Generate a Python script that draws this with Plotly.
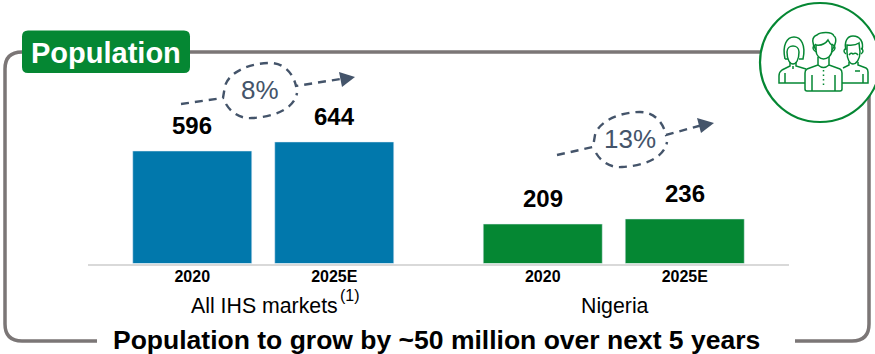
import plotly.graph_objects as go

# Chart data (population, millions)
years = ["2020", "2025E"]
ihs_values = [596, 644]
nigeria_values = [209, 236]
group_names = ["All IHS markets", "Nigeria"]
footnote_mark = "(1)"
growth_labels = ["8%", "13%"]
badge_text = "Population"
headline = "Population to grow by ~50 million over next 5 years"

W, H = 875, 354
BLUE = "#0178AC"
GREEN = "#058733"
SLATE = "#44546A"
FRAME = "#7B7676"
AXIS = "#D9D9D9"
FONT = "Liberation Sans, Arial, sans-serif"

BASE_Y = 263.5          # baseline, px from the top
PX_PER_UNIT = 0.1887    # bar height per million
SPLIT_X = 438.5         # border between the two panels
EDGE_L, EDGE_R = 88, 789
CAT_PITCH = 142         # px per category
half_span = (SPLIT_X - EDGE_L) / CAT_PITCH / 2
x_range = [0.5 - half_span, 0.5 + half_span]
y_range = [0, BASE_Y / PX_PER_UNIT]
y_domain = [1 - BASE_Y / H, 1]

fig = go.Figure()
fig.add_bar(x=years, y=ihs_values, marker_color=BLUE, xaxis="x", yaxis="y", hoverinfo="x+y")
fig.add_bar(x=years, y=nigeria_values, marker_color=GREEN, xaxis="x2", yaxis="y2", hoverinfo="x+y")
# Empty trace that keeps the full-page pixel axes alive for the decorations
fig.add_scatter(x=[], y=[], xaxis="x3", yaxis="y3", hoverinfo="skip")

cat_axis = dict(
    type="category", range=x_range, showgrid=False, zeroline=False, showline=True,
    linecolor=AXIS, linewidth=2, ticks="", ticklen=0, fixedrange=True,
    categoryorder="array", categoryarray=years, ticklabelstandoff=-3,
    tickfont=dict(family=FONT, size=16, color="#000000", weight="bold"),
)
val_axis = dict(range=y_range, domain=y_domain, visible=False, fixedrange=True)

annotations = []


def label(x, y, text, size, color="#000000", bold=False, xref="x3", yref="y3", **kw):
    annotations.append(dict(
        x=x, y=y, xref=xref, yref=yref, text=f"<b>{text}</b>" if bold else text,
        showarrow=False, font=dict(family=FONT, size=size, color=color), **kw))


# Value labels sit a fixed distance above their bars; x is the category position
for xref, yref, values in (("x", "y", ihs_values), ("x2", "y2", nigeria_values)):
    for position, value in enumerate(values):
        label(position, value, str(value), 24, bold=True, xref=xref, yref=yref,
              yanchor="middle", yshift=25.5)

label(264.5, 306, group_names[0], 21.3)
label(350, 295, footnote_mark, 16)
label(615, 306, group_names[1], 21.3)
label(436.5, 340, headline, 26.5, bold=True)
label(105.5, 52.5, badge_text, 29, color="#FFFFFF", bold=True)
label(260, 90, growth_labels[0], 26, color=SLATE)
label(630, 139, growth_labels[1], 26, color=SLATE)

shapes = []


def path(d, color, width=0, fill=None, dash=None):
    shapes.append(dict(
        type="path", path=d, xref="x3", yref="y3", layer="above",
        line=dict(color=color, width=width, dash=dash) if width else dict(width=0),
        fillcolor=fill if fill else "rgba(0,0,0,0)"))


# Rounded frame, open at the bottom for the headline
path("M97,341 H22 Q5,341 5,324 V69 Q5,52 22,52 H869 V324 Q869,341 852,341 H795", FRAME, 3.5)

# Badge behind the section title
path("M28,30.5 H184 Q190,30.5 190,36.5 V67 Q190,73 184,73 H28 Q22,73 22,67 V36.5 Q22,30.5 28,30.5 Z",
     GREEN, 0, GREEN)


def growth_bubble(dx, dy, start, tip, head_a, head_b):
    """Dashed arrow interrupted by a loose oval around the growth rate."""
    x0, y0 = start
    blob = (
        f"M{x0},{y0} L{223+dx},{98+dy} L{225+dx},{86+dy} "
        f"C{229+dx},{72+dy} {250+dx},{63+dy} {270+dx},{63+dy} "
        f"C{284+dx},{63+dy} {293+dx},{73+dy} {296+dx},{86+dy} "
        f"L{tip[0]-8},{tip[1]+1}"
    )
    lower = (
        f"M{226+dx},{104+dy} C{232+dx},{114+dy} {242+dx},{119+dy} {252+dx},{118+dy} "
        f"C{272+dx},{117+dy} {294+dx},{110+dy} {297+dx},{93+dy}"
    )
    dash = "8px,6px"
    path(blob, SLATE, 2.4, dash=dash)
    path(lower, SLATE, 2.4, dash=dash)
    path(f"M{tip[0]},{tip[1]} L{head_a[0]},{head_a[1]} L{head_b[0]},{head_b[1]} Z", SLATE, 0, SLATE)


growth_bubble(0, 0, (181, 104), (355, 77), (339, 72), (342, 87))
growth_bubble(370, 49, (557, 155), (714, 123), (697, 118), (701, 133))

# Badge circle with the group-of-people icon
path("M820,3 C853,3 880,30 880,62.5 C880,95 853,122 820,122 C787,122 760,95 760,62.5 C760,30 787,3 820,3 Z",
     GREEN, 2.2, "#FFFFFF")
ICON = 1.5
# Woman, left
path("M785,59 C782,45 787,37 794,37 C801,37 806,45 803,59 H799", GREEN, ICON)
path("M785,59 H788", GREEN, ICON)
path("M787,52 C787,44 799,44 799,52 C799,60 796,64 793,64 C790,64 787,60 787,52 Z", GREEN, ICON)
path("M790,62 V66 L782,70 Q779,72 779,76 V83 H805", GREEN, ICON)
path("M796,62 V66 L806,69", GREEN, ICON)
path("M785,73 V83 M793,66 V69", GREEN, ICON)
# Man, centre
path("M816,50 C812,44 811,37 817,35 C820,32 832,31 834,36 C837,38 836,45 832,50", GREEN, ICON)
path("M816,45 Q824,46 828,40 Q830,44 832,45", GREEN, ICON)
path("M816,45 V50 C816,56 820,59 823.5,59 C827,59 832,56 832,50 V45", GREEN, ICON)
path("M816,44 Q810,48 816,52 M832,44 Q838,48 832,52", GREEN, ICON)
path("M818,57 V65 L807,69 Q805,70 805,73 V89 Q805,91 807,91 H840 Q842,91 842,89 V73 Q842,70 840,69 L829,65 V57",
     GREEN, ICON)
path("M818,65 Q823.5,70 829,65 M812,75 V91 M835,75 V91", GREEN, ICON)
path("M823.5,70 V88", GREEN, ICON, dash="1.5px,3px")
# Man, right
path("M846,50 C844,42 847,36 853,36 C860,36 864,42 862,50", GREEN, ICON)
path("M847,45 Q855,46 859,43 L860,52 C860,60 856,64 853,64 C850,64 847,60 847,52 Z", GREEN, ICON)
path("M846,48 Q842,51 846,54 M861,48 Q865,51 861,54", GREEN, ICON)
path("M849,55 Q851,52 853,54 Q856,52 858,55", GREEN, ICON)
path("M849,62 V65 L843,68 M858,62 V65 L866,68 Q868,69 868,72 V83 H842", GREEN, ICON)
path("M855,71 H860 M863,74 V83", GREEN, ICON)

fig.update_layout(
    width=W, height=H, margin=dict(l=0, r=0, t=0, b=0),
    paper_bgcolor="#FFFFFF", plot_bgcolor="rgba(0,0,0,0)",
    showlegend=False, bargap=23 / 142,
    xaxis=dict(cat_axis, domain=[EDGE_L / W, SPLIT_X / W], anchor="y"),
    xaxis2=dict(cat_axis, domain=[SPLIT_X / W, EDGE_R / W], anchor="y2"),
    yaxis=dict(val_axis, anchor="x"),
    yaxis2=dict(val_axis, anchor="x2"),
    xaxis3=dict(domain=[0, 1], range=[0, W], visible=False, fixedrange=True, anchor="y3"),
    yaxis3=dict(domain=[0, 1], range=[H, 0], visible=False, fixedrange=True, anchor="x3"),
    shapes=shapes, annotations=annotations,
)
fig.write_html("out.html", config=dict(displayModeBar=False))
